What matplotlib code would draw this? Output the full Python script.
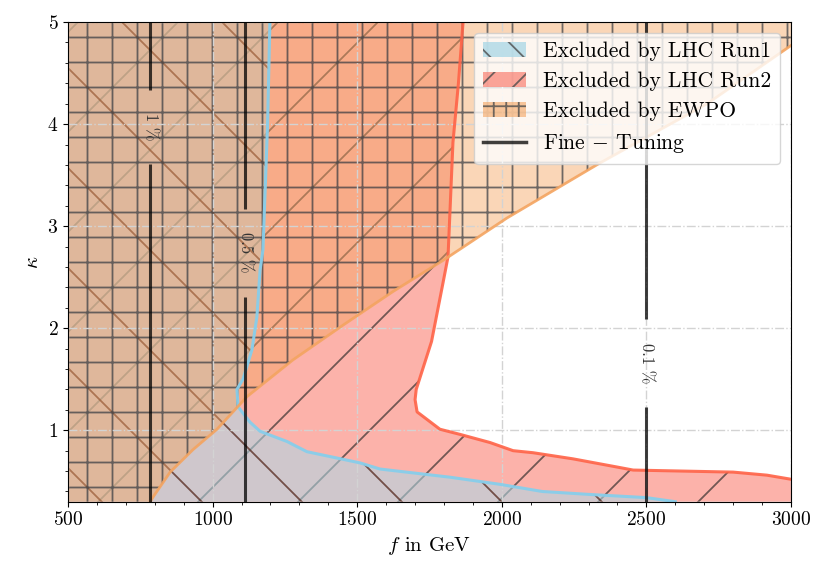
import numpy as np
import matplotlib
matplotlib.use("Agg")
import matplotlib.pyplot as plt
from matplotlib.backend_bases import GraphicsContextBase
from matplotlib.colors import to_rgba
from matplotlib.lines import Line2D
from matplotlib.patches import Patch
from matplotlib.ticker import MultipleLocator

# sparser hatching than the matplotlib default of 6 lines per inch
_hatch_path = GraphicsContextBase.get_hatch_path
GraphicsContextBase.get_hatch_path = lambda self, density=2.0: _hatch_path(self, density)

plt.rcParams['font.family'] = 'serif'
plt.rcParams['font.serif'] = ['cmr10']
plt.rcParams['mathtext.fontset'] = 'cm'
plt.rcParams['axes.formatter.use_mathtext'] = True
plt.rcParams['hatch.linewidth'] = 1.3

# limits of the scan
f_min, f_max = 500, 3000
k_min, k_max = 0.3, 5.0

# LHC Run1 exclusion boundary (kappa decreasing)
run1_f = [1198, 1190, 1174, 1164, 1153, 1136, 1105, 1084, 1088, 1129, 1164, 1257,
          1326, 1510, 1579, 1700, 1821, 1994, 2140, 2310, 2500, 2600]
run1_k = [5.00, 4.00, 2.77, 2.57, 2.11, 1.79, 1.50, 1.40, 1.23, 1.08, 0.99, 0.89,
          0.79, 0.68, 0.62, 0.58, 0.54, 0.47, 0.40, 0.37, 0.34, 0.30]

# LHC Run2 exclusion boundary
run2_f = [1866, 1850, 1831, 1814, 1797, 1757, 1704, 1700, 1707, 1786, 1855, 1959,
          2039, 2108, 2246, 2398, 2454, 2800, 2917, 3000]
run2_k = [5.00, 4.40, 3.82, 2.70, 2.45, 1.87, 1.40, 1.30, 1.18, 1.01, 0.96, 0.88,
          0.80, 0.78, 0.72, 0.64, 0.61, 0.59, 0.56, 0.52]

# EWPO exclusion boundary (excluded above)
ewpo_f = [784, 795, 853, 932, 1015, 1119, 1278, 1451, 1624, 1800, 2018, 2340, 2710, 3000]
ewpo_k = [0.30, 0.35, 0.59, 0.81, 1.01, 1.33, 1.69, 2.03, 2.36, 2.67, 3.08, 3.62, 4.20, 4.77]

# fine-tuning contours
ft_f = [783, 1112, 2500]
ft_labels = [r'1 %', r'0.5 %', r'0.1 %']
ft_label_k = [3.97, 2.74, 1.66]
ft_gap = [0.36, 0.43, 0.43]

fig, ax = plt.subplots(figsize=(8.3, 5.8), dpi=100)
fig.subplots_adjust(left=0.082, right=0.953, top=0.962, bottom=0.135)

# Run2
k2 = np.r_[run2_k, k_min]
f2 = np.r_[run2_f, f_max]
ax.fill_betweenx(k2, f_min, f2, facecolor=to_rgba('salmon', 0.6),
                 edgecolor=(0.15, 0.15, 0.15, 0.65), hatch='/', linewidth=0)
ax.plot(run2_f, run2_k, color='tomato', lw=2.2, alpha=0.9)

# Run1
ax.fill_betweenx(run1_k, f_min, run1_f, facecolor=to_rgba('lightblue', 0.57),
                 edgecolor=(0.33, 0.15, 0.1, 0.75), hatch='\\', linewidth=0)
ax.plot(run1_f, run1_k, color='skyblue', lw=2.2, alpha=0.95)

# EWPO
fe = np.r_[f_min, ewpo_f]
ke = np.r_[k_min, ewpo_k]
ax.fill_between(fe, ke, k_max, facecolor=to_rgba('sandybrown', 0.45),
                edgecolor=(0.2, 0.22, 0.25, 0.7), hatch='++', linewidth=0)
ax.plot(ewpo_f, ewpo_k, color='sandybrown', lw=2, alpha=0.9)

# fine tuning lines with inline labels
for f, lab, kl, g in zip(ft_f, ft_labels, ft_label_k, ft_gap):
    ax.vlines(f, k_min, kl - g, color='k', lw=2.2, alpha=0.75)
    ax.vlines(f, kl + g, k_max, color='k', lw=2.2, alpha=0.75)
    ax.text(f, kl, lab, rotation=-90, ha='center', va='center',
            fontsize=12, color='#333333')

ax.set_xlim(f_min, f_max)
ax.set_ylim(k_min, k_max)
ax.xaxis.set_major_locator(MultipleLocator(500))
ax.xaxis.set_minor_locator(MultipleLocator(100))
ax.yaxis.set_major_locator(MultipleLocator(1))
ax.yaxis.set_minor_locator(MultipleLocator(0.2))
ax.tick_params(labelsize=14)
ax.grid(True, which='major', linestyle='-.', color='lightgray', lw=1)

ax.set_xlabel(r'$f$ in GeV', fontsize=15)
ax.set_ylabel(r'$\kappa$', fontsize=15)

handles = [
    Patch(facecolor=to_rgba('lightblue', 0.8), edgecolor=(0.3, 0.3, 0.3, 0.8), hatch='\\\\\\', lw=0),
    Patch(facecolor=to_rgba('salmon', 0.7), edgecolor=(0.3, 0.3, 0.3, 0.8), hatch='///', lw=0),
    Patch(facecolor=to_rgba('sandybrown', 0.6), edgecolor=(0.3, 0.3, 0.3, 0.8), hatch='++++', lw=0),
    Line2D([], [], color='k', lw=2.5, alpha=0.75),
]
labels = ['Excluded by LHC Run1', 'Excluded by LHC Run2', 'Excluded by EWPO', r'Fine $-$ Tuning']
ax.legend(handles, labels, loc='upper right', fontsize=15.5, framealpha=0.8)

fig.savefig('out.png', dpi=100)
